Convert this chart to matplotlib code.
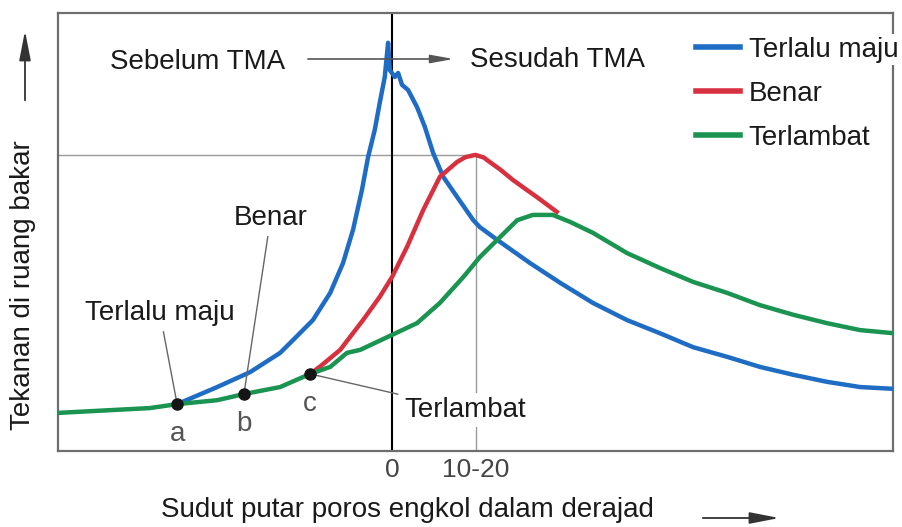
import matplotlib
matplotlib.use("Agg")
import matplotlib.pyplot as plt

plt.rcParams['font.family'] = ['Liberation Sans', 'DejaVu Sans']

# crank angle (deg) vs combustion chamber pressure (relative units)
angle_blue = [-38.6, -31.4, -25.5, -20.1, -17.8, -14.2, -11.1, -8.8, -7.0, -5.4,
              -4.3, -3.1, -2.2, -1.3, -0.7, -0.4, 0.5, 1.1, 1.8, 2.9, 4.5, 5.9,
              7.4, 9.2, 11.7, 14.6, 15.8, 18.9, 24.8, 30.2, 36.1, 42.2, 48.1,
              54.1, 60.2, 66.1, 72.1, 78.1, 84.1, 90.0]
p_blue = [10.7, 14.6, 18.0, 22.4, 25.3, 29.9, 36.1, 42.9, 50.5, 59.6,
          67.1, 73.3, 79.5, 85.4, 93.2, 87.0, 85.4, 86.3, 83.6, 82.4, 78.5, 74.0,
          68.0, 62.6, 58.0, 52.7, 51.1, 48.2, 42.9, 38.4, 33.8, 29.9, 26.9,
          23.7, 21.5, 19.2, 17.4, 15.8, 14.6, 14.2]

angle_red = [-14.7, -13.0, -11.1, -9.3, -5.2, -2.2, 0.0, 2.7, 5.6, 8.6,
             11.7, 13.2, 15.0, 16.5, 17.1, 19.4, 21.7, 24.0, 26.0, 29.6]
p_red = [17.6, 19.2, 21.2, 23.1, 29.9, 35.2, 39.7, 46.6, 55.0, 62.6,
         66.0, 67.1, 67.6, 67.0, 66.4, 64.3, 61.9, 59.8, 58.0, 54.6]

angle_green = [-60.0, -43.5, -38.6, -31.4, -26.6, -20.1, -14.7, -11.1, -8.1,
               -5.7, 0.0, 4.5, 8.6, 12.8, 15.8, 18.9, 22.5, 25.3, 28.9, 32.0,
               36.1, 42.2, 48.1, 54.1, 60.2, 66.1, 72.1, 78.1, 84.1, 90.0]
p_green = [8.7, 9.8, 10.7, 11.6, 13.0, 14.6, 17.6, 19.2, 22.4,
           23.1, 26.5, 29.2, 33.8, 39.7, 44.3, 48.2, 52.7, 53.9, 53.9, 52.3,
           49.8, 45.2, 41.8, 38.6, 36.1, 33.3, 31.1, 29.2, 27.6, 26.9]

# ignition points
ign_angle = [-38.6, -26.6, -14.7]
ign_p = [10.7, 13.0, 17.6]
ign_names = ['a', 'b', 'c']

series_names = ['Terlalu maju', 'Benar', 'Terlambat']
tick_pos = [0, 15]
tick_labels = ['0', '10-20']

BLUE = '#1f6cc4'
RED = '#d7313f'
GREEN = '#1a9450'
TXT = '#1a1a1a'
FS = 20

fig = plt.figure(figsize=(9.02, 5.27), dpi=100)
ax = fig.add_axes([58 / 902, 1 - 451 / 527, 835 / 902, 438 / 527])
ax.set_xlim(-60, 90)
ax.set_ylim(0, 100)

for s in ax.spines.values():
    s.set_color('#6e6e6e')
    s.set_linewidth(1.6)
ax.set_yticks([])
ax.set_xticks(tick_pos)
ax.set_xticklabels(tick_labels, fontsize=19, color='#444444')
ax.tick_params(axis='x', length=0, pad=5)

# guide lines at the peak of the correct-timing curve
i_peak = p_red.index(max(p_red))
ax.plot([-60, angle_red[i_peak]], [p_red[i_peak], p_red[i_peak]], color='#9a9a9a', lw=1, zorder=1)
ax.plot([angle_red[i_peak], angle_red[i_peak]], [0, p_red[i_peak]], color='#9a9a9a', lw=1, zorder=1)
ax.axvline(0, color='black', lw=1.5, zorder=1.5)

lb, = ax.plot(angle_blue, p_blue, color=BLUE, lw=3.2, zorder=3, solid_joinstyle='round')
lr, = ax.plot(angle_red, p_red, color=RED, lw=3.2, zorder=3.1, solid_joinstyle='round')
lg, = ax.plot(angle_green, p_green, color=GREEN, lw=3.2, zorder=3.2, solid_joinstyle='round')
ax.plot(ign_angle, ign_p, 'o', color='#151515', ms=8, zorder=5)

for x, y, n in zip(ign_angle, ign_p, ign_names):
    ax.text(x, y - 3.9, n, fontsize=FS, color='#555555', ha='center', va='top')

# leader labels
lead = dict(arrowstyle='-', color='#666666', lw=1, shrinkA=2, shrinkB=0)
ax.annotate('Benar', xy=(ign_angle[1], ign_p[1]), xytext=(-21.8, 53.2),
            fontsize=FS, color=TXT, ha='center', va='center', arrowprops=lead)
ax.annotate('Terlalu maju', xy=(ign_angle[0], ign_p[0]), xytext=(-41.7, 31.5),
            fontsize=FS, color=TXT, ha='center', va='center', arrowprops=lead)
ax.annotate('Terlambat', xy=(ign_angle[2], ign_p[2]), xytext=(2.3, 9.4),
            fontsize=FS, color=TXT, ha='left', va='center', arrowprops=lead,
            bbox=dict(facecolor='white', edgecolor='none', pad=3), zorder=4)

# before / after TDC
ax.text(-34.9, 88.8, 'Sebelum TMA', fontsize=FS, color=TXT, ha='center', va='center')
ax.text(14.0, 89.3, 'Sesudah TMA', fontsize=FS, color=TXT, ha='left', va='center')
ax.annotate('', xy=(11.6, 89.5), xytext=(-15.6, 89.5),
            arrowprops=dict(arrowstyle='-|>,head_length=1.4,head_width=0.25',
                            color='#555555', lw=1.2, mutation_scale=10))

leg = ax.legend([lb, lr, lg], series_names, loc='upper right', frameon=False,
                bbox_to_anchor=(904 / 902, 1 - 31 / 527), bbox_transform=fig.transFigure,
                fontsize=FS, handlelength=1.6, handletextpad=0.3, labelspacing=0.65,
                borderpad=0.2, borderaxespad=0)
for t in leg.get_texts():
    t.set_color(TXT)
leg.get_texts()[0].set_bbox(dict(facecolor='white', edgecolor='none', pad=2))
for h in leg.legend_handles:
    h.set_linewidth(4)

# axis titles with direction arrows
fig.text(407 / 902, 1 - 510 / 527, 'Sudut putar poros engkol dalam derajad',
         fontsize=FS, color=TXT, ha='center', va='center')
fig.text(23 / 902, 1 - 285 / 527, 'Tekanan di ruang bakar', fontsize=FS, color=TXT,
         ha='center', va='center', rotation=90)
arrow_kw = dict(arrowstyle='-|>,head_length=1.8,head_width=0.35', color='#333333',
                lw=1.3, mutation_scale=10)
ax.annotate('', xy=(782 / 902, 1 - 518 / 527), xytext=(700 / 902, 1 - 518 / 527),
            xycoords='figure fraction', textcoords='figure fraction', arrowprops=arrow_kw)
ax.annotate('', xy=(25 / 902, 1 - 28 / 527), xytext=(25 / 902, 1 - 103 / 527),
            xycoords='figure fraction', textcoords='figure fraction', arrowprops=arrow_kw)

fig.savefig('out.png', dpi=100)
